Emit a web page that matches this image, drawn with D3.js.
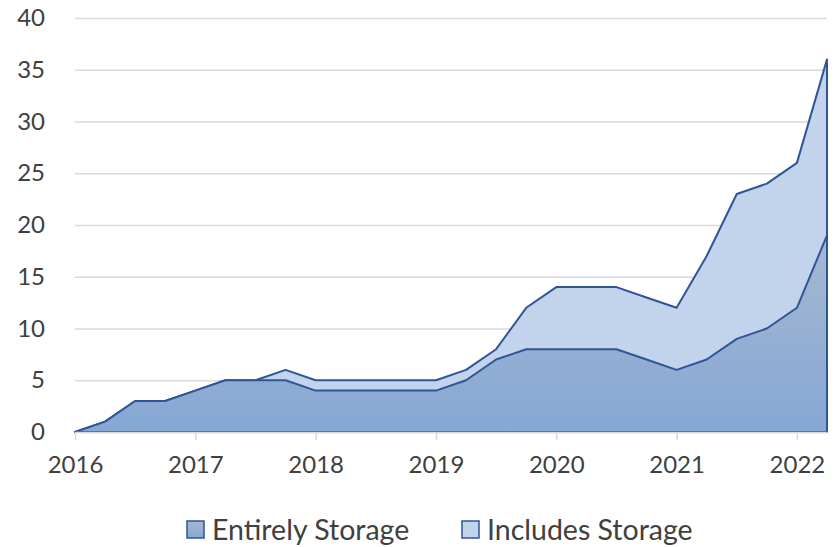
<!DOCTYPE html>
<html>
<head>
<meta charset="utf-8">
<script src="https://cdn.jsdelivr.net/npm/d3@7"></script>
<style>
  body { margin: 0; background: #fff; }
  .axis text { font-family: Lato, "Open Sans", sans-serif; font-size: 24px; fill: #404040; }
  .legend text { font-family: Lato, "Open Sans", sans-serif; font-size: 28.5px; fill: #404040; }
</style>
</head>
<body>
<div id="chart"></div>
<script>
// quarterly, 2016 Q1 .. 2022 Q2
var quarters = d3.range(26).map(function(i) { return 2016 + i * 0.25; });
var entirelyStorage = [0, 1, 3, 3, 4, 5, 5, 5, 4, 4, 4, 4, 4, 5, 7, 8, 8, 8, 8, 7, 6, 7, 9, 10, 12, 19];
var includesStorage = [0, 1, 3, 3, 4, 5, 5, 6, 5, 5, 5, 5, 5, 6, 8, 12, 14, 14, 14, 13, 12, 17, 23, 24, 26, 36];
var yearTicks = [2016, 2017, 2018, 2019, 2020, 2021, 2022];
var yTicks = [0, 5, 10, 15, 20, 25, 30, 35, 40];
var seriesNames = ["Entirely Storage", "Includes Storage"];

var width = 837, height = 547;
var margin = {top: 18, right: 10, bottom: 115, left: 75};
var graphWidth = 752, graphHeight = 414;

var svg = d3.select("#chart")
  .append("svg")
  .attr("width", width)
  .attr("height", height);

var defs = svg.append("defs");
var grad = defs.append("linearGradient")
  .attr("id", "darkFill")
  .attr("x1", 0).attr("y1", 0).attr("x2", 0).attr("y2", 1);
grad.append("stop").attr("offset", "0%").attr("stop-color", "#a6b8d1");
grad.append("stop").attr("offset", "100%").attr("stop-color", "#86a7d5");

var g = svg.append("g")
  .attr("transform", "translate(" + margin.left + "," + margin.top + ")");

var x = d3.scaleLinear()
  .domain([2016, 2022.25])
  .range([0, graphWidth]);

var y = d3.scaleLinear()
  .domain([0, 40])
  .range([graphHeight, 0]);

// gridlines + y labels
g.append("g")
  .attr("class", "yAxis axis")
  .call(d3.axisLeft(y)
    .tickValues(yTicks)
    .tickSizeInner(-graphWidth)
    .tickSizeOuter(0)
    .tickPadding(30))
  .call(function(a) {
    a.select(".domain").remove();
    a.selectAll("line").attr("stroke", "#d9d9d9").attr("stroke-width", 1.5);
  });

var rows = quarters.map(function(q, i) {
  return {q: q, low: entirelyStorage[i], high: includesStorage[i]};
});

var areaTop = d3.area()
  .x(d => x(d.q))
  .y0(y(0))
  .y1(d => y(d.high));

var areaLow = d3.area()
  .x(d => x(d.q))
  .y0(y(0))
  .y1(d => y(d.low));

g.append("path")
  .datum(rows)
  .attr("d", areaTop)
  .attr("fill", "#c2d4ec")
  .attr("stroke", "#2f5597")
  .attr("stroke-width", 2)
  .attr("stroke-linejoin", "round");

g.append("path")
  .datum(rows)
  .attr("d", areaLow)
  .attr("fill", "url(#darkFill)")
  .attr("stroke", "#2f5597")
  .attr("stroke-width", 2)
  .attr("stroke-linejoin", "round");

// x axis
g.append("g")
  .attr("class", "xAxis axis")
  .attr("transform", "translate(0," + graphHeight + ")")
  .call(d3.axisBottom(x)
    .tickValues(yearTicks)
    .tickFormat(d3.format("d"))
    .tickSizeInner(8)
    .tickSizeOuter(0)
    .tickPadding(16))
  .call(function(a) {
    a.select(".domain").attr("stroke", "#d9d9d9").attr("stroke-width", 1.5);
    a.selectAll("line").attr("stroke", "#d9d9d9").attr("stroke-width", 1.5);
  });

// legend
var legend = svg.append("g").attr("class", "legend")
  .attr("transform", "translate(0," + 530 + ")");
var legendFills = ["url(#darkFill)", "#c2d4ec"];
var legendX = [187, 462];
seriesNames.forEach(function(name, i) {
  legend.append("rect")
    .attr("x", legendX[i]).attr("y", -9)
    .attr("width", 17).attr("height", 17)
    .attr("fill", legendFills[i])
    .attr("stroke", "#2f5597").attr("stroke-width", 1.5);
  legend.append("text")
    .attr("x", legendX[i] + 25).attr("y", 0)
    .attr("dy", "0.35em")
    .text(name);
});
</script>
</body>
</html>
